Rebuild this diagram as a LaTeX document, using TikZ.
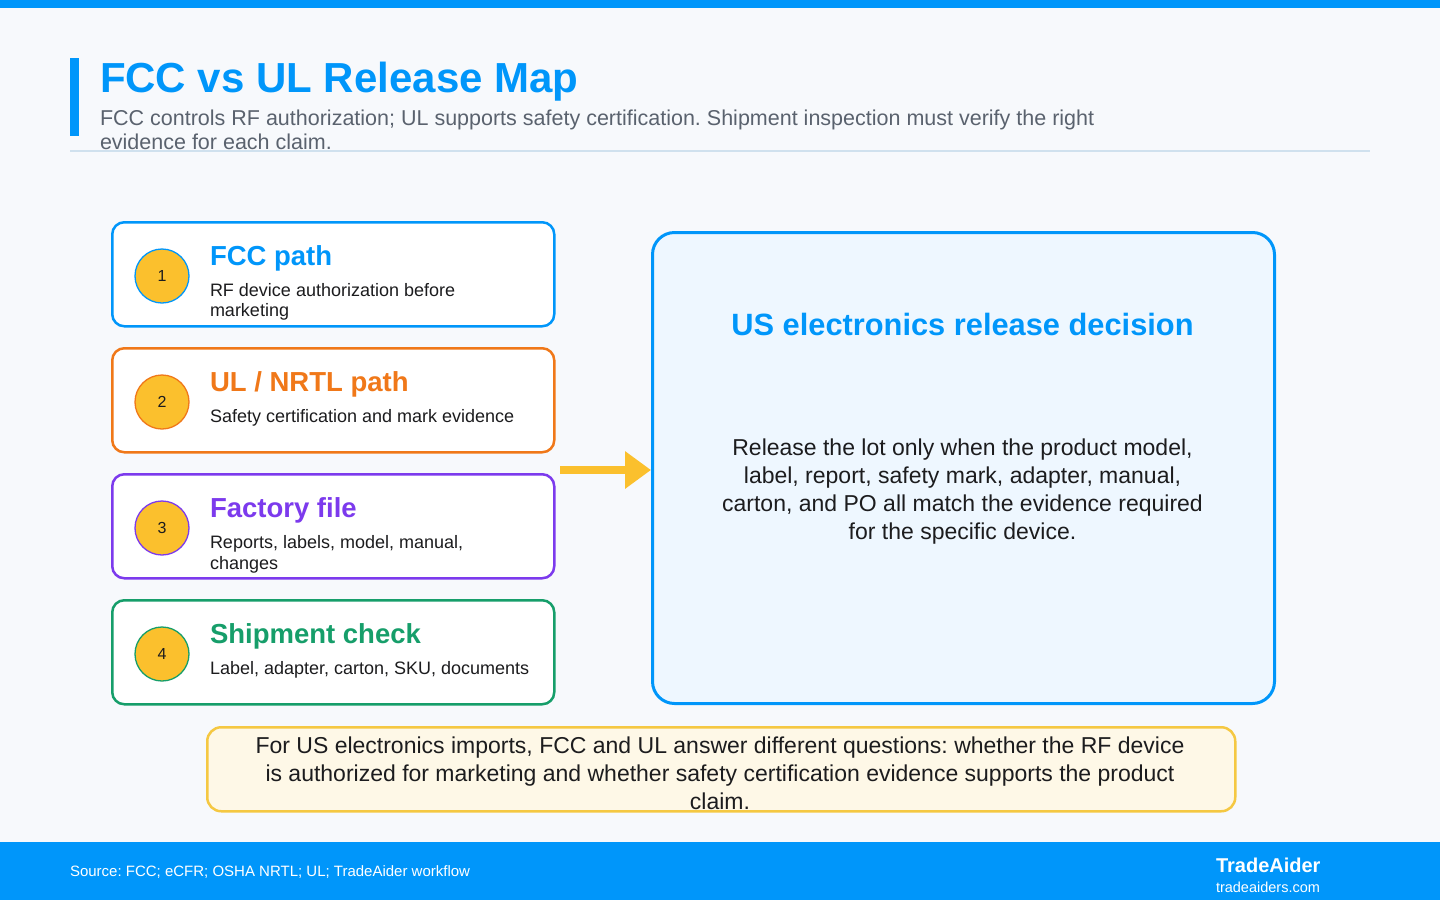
\documentclass[tikz,border=0pt]{standalone}
\usepackage{fontspec}
\setmainfont{Liberation Sans}
\usetikzlibrary{arrows.meta}
\definecolor{brandblue}{RGB}{0,150,250}
\definecolor{bgc}{RGB}{247,249,252}
\definecolor{subgray}{RGB}{90,98,110}
\definecolor{sepc}{RGB}{208,225,238}
\definecolor{ink}{RGB}{28,28,30}
\definecolor{corange}{RGB}{240,120,25}
\definecolor{cpurple}{RGB}{124,58,237}
\definecolor{cgreen}{RGB}{22,158,106}
\definecolor{amber}{RGB}{251,192,45}
\definecolor{rfill}{RGB}{238,247,255}
\definecolor{nfill}{RGB}{254,248,231}
\definecolor{nborder}{RGB}{245,200,66}
\newcommand\myfs[1]{\fontsize{#1}{#1}\selectfont}
\frenchspacing
\begin{document}
\frenchspacing
\begin{tikzpicture}[x=1pt,y=-1pt,
  txt/.style={inner sep=0pt, outer sep=0pt},
  card/.style={draw=#1, line width=2.5pt, fill=white, rounded corners=12pt,
    minimum width=442pt, minimum height=104pt, anchor=north west, inner sep=0pt},
  badge/.style={circle, fill=amber, draw=#1, line width=1.3pt, minimum size=54pt,
    inner sep=0pt, font=\myfs{16}, text=ink},
  ctitle/.style={txt, anchor=base west, font=\myfs{27.5}\bfseries, text=#1},
  cdesc/.style={txt, anchor=base west, font=\myfs{18}, text=ink},
  body/.style={txt, anchor=base, font=\myfs{23}, text=ink}]
\useasboundingbox (0,0) rectangle (1440,900);
\fill[bgc] (0,0) rectangle (1440,900);
\fill[brandblue] (0,0) rectangle (1440,8);
% header
\fill[brandblue] (70,58) rectangle (79,136);
\node[txt, anchor=base west, font=\myfs{42}\bfseries, text=brandblue] (title) at (100,92) {FCC vs UL Release Map};
\node[txt, anchor=base west, font=\myfs{21.5}, text=subgray] (sub1) at (100,125) {FCC controls RF authorization; UL supports safety certification. Shipment inspection must verify the right};
\node[txt, anchor=base west, font=\myfs{21.5}, text=subgray] (sub2) at (100,149) {evidence for each claim.};
\draw[sepc, line width=2pt] (70,151) -- (1370,151);
% cards
\node[card=brandblue] (c1) at (111,221) {};
\node[badge=brandblue] (n1) at (162,276) {1};
\node[ctitle=brandblue] (t1) at (210,265) {FCC path};
\node[cdesc] (d1a) at (210,296) {RF device authorization before};
\node[cdesc] (d1b) at (210,316) {marketing};

\node[card=corange] (c2) at (111,347) {};
\node[badge=corange] (n2) at (162,402) {2};
\node[ctitle=corange] (t2) at (210,391) {UL / NRTL path};
\node[cdesc] (d2a) at (210,422) {Safety certification and mark evidence};

\node[card=cpurple] (c3) at (111,473) {};
\node[badge=cpurple] (n3) at (162,528) {3};
\node[ctitle=cpurple] (t3) at (210,517) {Factory file};
\node[cdesc] (d3a) at (210,548) {Reports, labels, model, manual,};
\node[cdesc] (d3b) at (210,569) {changes};

\node[card=cgreen] (c4) at (111,599) {};
\node[badge=cgreen] (n4) at (162,654) {4};
\node[ctitle=cgreen] (t4) at (210,643) {Shipment check};
\node[cdesc] (d4a) at (210,674) {Label, adapter, carton, SKU, documents};
% decision box
\node[draw=brandblue, line width=3pt, fill=rfill, rounded corners=22pt, minimum width=622pt,
  minimum height=471pt, anchor=north west, inner sep=0pt] (dec) at (651,231) {};
\node[txt, anchor=base, font=\myfs{30.8}\bfseries, text=brandblue] (dect) at (962.5,335) {US electronics release decision};
\node[body] (b1) at (962.5,455) {Release the lot only when the product model,};
\node[body] (b2) at (962.5,483) {label, report, safety mark, adapter, manual,};
\node[body] (b3) at (962.5,511) {carton, and PO all match the evidence required};
\node[body] (b4) at (962.5,539) {for the specific device.};
% arrow
\coordinate (astart) at (560,470);
\draw[amber, line width=8pt, -{Triangle[length=26pt, width=36pt]}] (astart) -- (dec.west |- astart);
% note
\node[draw=nborder, line width=2.5pt, fill=nfill, rounded corners=14pt, minimum width=1028pt,
  minimum height=84pt, anchor=north west, inner sep=0pt] (note) at (206,726) {};
\node[body] (nt1) at (720,753) {For US electronics imports, FCC and UL answer different questions: whether the RF device};
\node[body] (nt2) at (720,781) {is authorized for marketing and whether safety certification evidence supports the product};
\node[body] (nt3) at (720,809) {claim.};
% footer
\fill[brandblue] (0,842) rectangle (1440,900);
\node[txt, anchor=base west, font=\myfs{15}, text=white] (src) at (70,876) {Source: FCC; eCFR; OSHA NRTL; UL; TradeAider workflow};
\node[txt, anchor=base west, font=\myfs{20}\bfseries, text=white] (brand) at (1216,872) {TradeAider};
\node[txt, anchor=base west, font=\myfs{14.5}, text=white] (url) at (1216,892) {tradeaiders.com};
\end{tikzpicture}
\end{document}
